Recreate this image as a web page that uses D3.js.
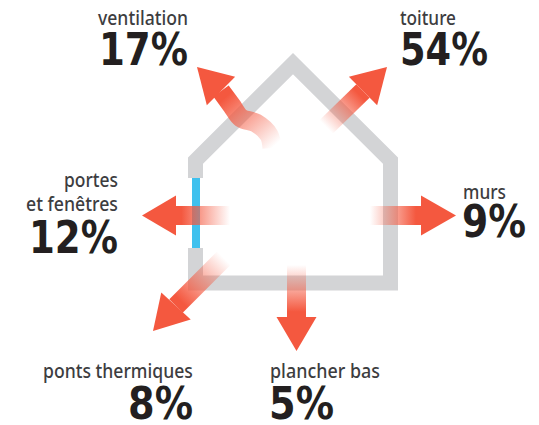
<!DOCTYPE html>
<html>
<head>
<meta charset="utf-8">
<script src="https://cdn.jsdelivr.net/npm/d3@7"></script>
<style>
  html, body { margin: 0; background: #fff; }
  svg { display: block; }
  .label { font-family: "Noto Sans", Roboto, sans-serif; font-weight: 500; font-size: 20px; fill: #3d3d3f; }
  .value { font-family: "DejaVu Sans", Roboto, sans-serif; font-weight: 700; font-size: 45px; fill: #231f20; }
</style>
</head>
<body>
<svg id="chart"></svg>
<script>
// pertes de chaleur d'une maison
const categories = ["ventilation", "toiture", "murs", "portes et fenêtres", "ponts thermiques", "plancher bas"];
const values = [17, 54, 9, 12, 8, 5];

const width = 539, height = 425;
const red = "#f4583f", grey = "#d3d4d6", blue = "#3fc1ee";

// placement des textes : une entrée par catégorie
const labelLines = [["ventilation"], ["toiture"], ["murs"], ["portes", "et fenêtres"], ["ponts thermiques"], ["plancher bas"]];
const labelPos = [
    [{ x: 98, y: 25, w: 90 }],
    [{ x: 400, y: 25, w: 56 }],
    [{ x: 463, y: 199, w: 43 }],
    [{ x: 64, y: 187, w: 54 }, { x: 26, y: 211, w: 92 }],
    [{ x: 43, y: 378, w: 150 }],
    [{ x: 270, y: 378, w: 110 }]
];
const valuePos = [
    { x: 99, y: 65, w: 89 }, { x: 400, y: 65, w: 88 }, { x: 462, y: 237, w: 64 },
    { x: 29, y: 253, w: 89 }, { x: 128, y: 419, w: 65 }, { x: 269, y: 419, w: 65 }
];

// flèches : queue, collet et pointe
const arrows = [
    { shaft: [[272, 148], [269, 135], [256, 123], [241, 118], [232, 106], [221, 91]], tip: [197, 67], halfHead: 20 },
    { shaft: [[326, 127], [363, 91]], tip: [387, 67], halfHead: 20 },
    { shaft: [[370, 215.5], [421, 215.5]], tip: [456, 215.5], halfHead: 20 },
    { shaft: [[230, 215.5], [176, 215.5]], tip: [142, 215.5], halfHead: 20 },
    { shaft: [[224, 258], [176, 306]], tip: [153, 331], halfHead: 20 },
    { shaft: [[296.5, 265], [296.5, 317]], tip: [296.5, 351], halfHead: 20 }
];
const shaftWidth = 19;

const svg = d3.select("#chart").attr("width", width).attr("height", height);
const defs = svg.append("defs");

// maison : toit + murs, avec l'ouverture de la fenêtre
const wallTop = [[195.5, 178], [195.5, 160.6], [293, 63.6], [390.5, 160.6], [390.5, 283], [195.5, 283], [195.5, 248]];
svg.append("path")
    .attr("d", d3.line()(wallTop))
    .attr("fill", "none")
    .attr("stroke", grey)
    .attr("stroke-width", 15)
    .attr("stroke-linejoin", "miter");

svg.append("line")
    .attr("x1", 196).attr("x2", 196)
    .attr("y1", 178).attr("y2", 248)
    .attr("stroke", blue)
    .attr("stroke-width", 8);

const shaftLine = d3.line().curve(d3.curveCatmullRom.alpha(0.5));

arrows.forEach((a, i) => {
    const start = a.shaft[0];
    const neck = a.shaft[a.shaft.length - 1];
    const dx = a.tip[0] - neck[0], dy = a.tip[1] - neck[1];
    const len = Math.hypot(dx, dy);
    const nx = -dy / len, ny = dx / len;

    const grad = defs.append("linearGradient")
        .attr("id", "fade" + i)
        .attr("gradientUnits", "userSpaceOnUse")
        .attr("x1", start[0]).attr("y1", start[1])
        .attr("x2", neck[0]).attr("y2", neck[1]);
    grad.append("stop").attr("offset", 0).attr("stop-color", red).attr("stop-opacity", 0);
    grad.append("stop").attr("offset", 0.5).attr("stop-color", red).attr("stop-opacity", 0.55);
    grad.append("stop").attr("offset", 0.9).attr("stop-color", red).attr("stop-opacity", 1);

    svg.append("path")
        .attr("d", shaftLine(a.shaft))
        .attr("fill", "none")
        .attr("stroke", `url(#fade${i})`)
        .attr("stroke-width", shaftWidth);
    svg.append("path")
        .attr("d", d3.line()([
            [neck[0] + nx * a.halfHead, neck[1] + ny * a.halfHead],
            a.tip,
            [neck[0] - nx * a.halfHead, neck[1] - ny * a.halfHead]
        ]) + "Z")
        .attr("fill", red);
});

// texte resserré horizontalement pour tenir dans la largeur voulue
function squeezed(cls, str, p) {
    const t = svg.append("text").attr("class", cls).text(str);
    const sx = p.w / t.node().getComputedTextLength();
    t.attr("transform", `translate(${p.x},${p.y}) scale(${sx},1)`);
}

categories.forEach((c, i) => {
    labelLines[i].forEach((line, j) => squeezed("label", line, labelPos[i][j]));
    squeezed("value", values[i] + "%", valuePos[i]);
});
</script>
</body>
</html>
